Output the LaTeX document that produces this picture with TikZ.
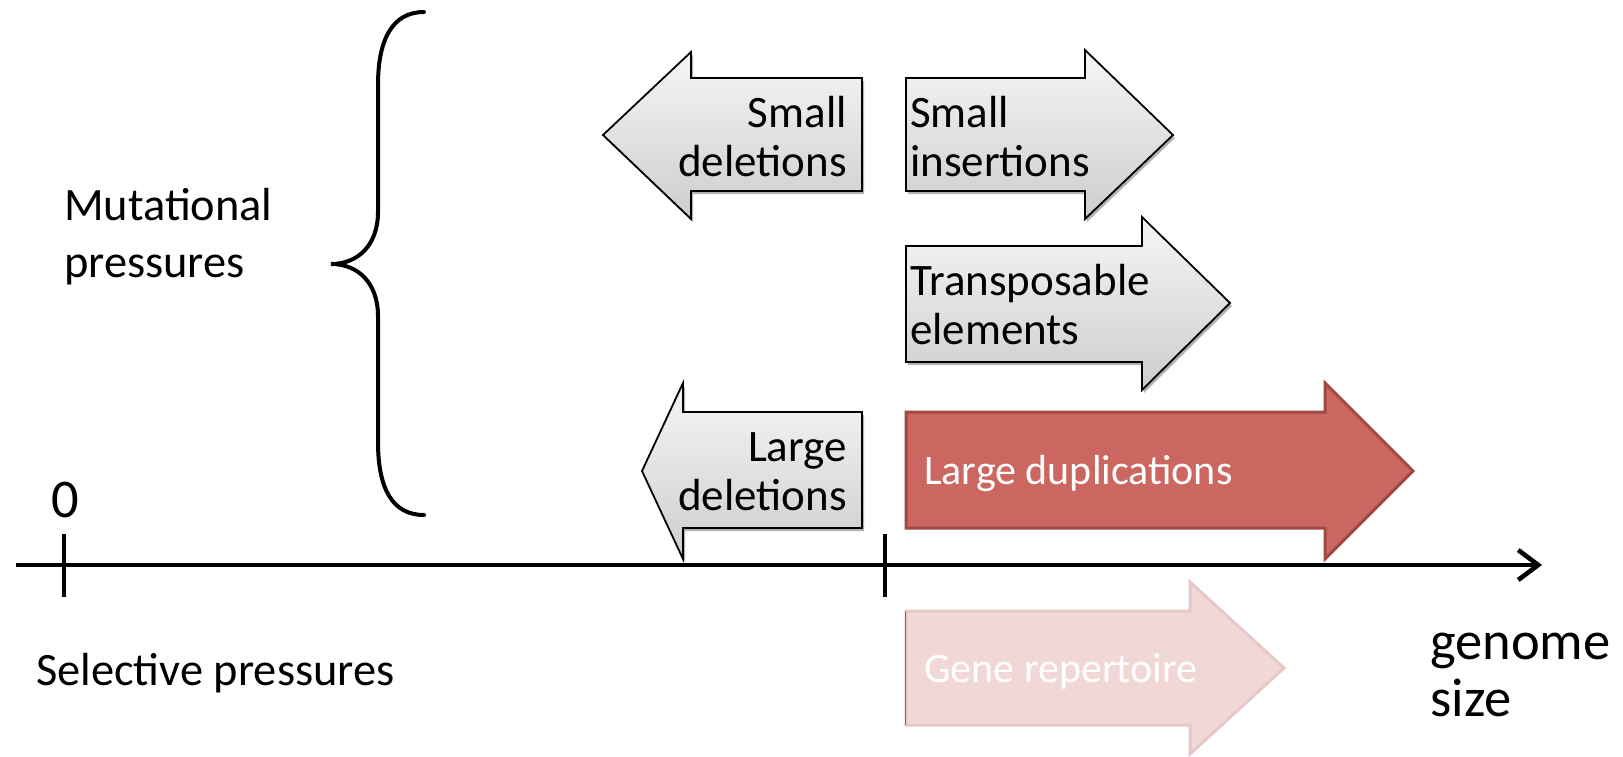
\documentclass[tikz,border=0pt]{standalone}
\usepackage{fontspec}
\setmainfont{Carlito}
\usetikzlibrary{arrows.meta,shadows}

\definecolor{greytop}{HTML}{F6F6F6}
\definecolor{greybot}{HTML}{CDCDCD}
\definecolor{dupfill}{HTML}{CC6661}
\definecolor{dupline}{HTML}{9F4845}
\definecolor{genefill}{HTML}{F2D7D7}
\definecolor{geneline}{HTML}{E7C8C8}
\definecolor{geneedge}{HTML}{B05555}

\tikzset{
  greyarrow/.style={draw=black, line width=1.8pt, line join=miter,
    top color=greytop, bottom color=greybot,
    drop shadow={shadow xshift=2pt, shadow yshift=-3pt, opacity=0.3, fill=black}},
  duparrow/.style={draw=dupline, line width=3pt, line join=miter, fill=dupfill},
  genearrow/.style={draw=geneline, line width=3pt, line join=miter, fill=genefill},
  boxtext/.style={inner sep=0pt, font=\fontsize{45}{49}\selectfont},
  redtext/.style={inner sep=0pt, text=white, font=\fontsize{42}{49}\selectfont},
  plaintext/.style={inner sep=0pt, font=\fontsize{46.4}{57}\selectfont, align=left},
  bigtext/.style={inner sep=0pt, font=\fontsize{54.5}{57}\selectfont, align=left},
  axisline/.style={line width=4.6pt, -{Straight Barb[length=20pt, width=30pt, line width=4.6pt]}},
  tickmark/.style={line width=4.6pt},
  bracestyle/.style={line width=4pt, line cap=round}
}

\begin{document}
\begin{tikzpicture}[x=1pt, y=-1pt]
\useasboundingbox (0,0) rectangle (1623,756);

% --- mutational pressures brace
\draw[bracestyle] (424,12) .. controls (392,12) and (378,40) .. (378,85)
  -- (378,212) .. controls (378,245) and (358,264) .. (331,264)
  .. controls (358,264) and (378,283) .. (378,316)
  -- (378,442) .. controls (378,488) and (392,515) .. (424,515);
\node[plaintext, anchor=west] (mut) at (64,237) {Mutational\\pressures};

% --- small deletions (pointing left)
\draw[greyarrow] (603,135) -- (691,52) -- (691,78) -- (862,78) -- (862,191)
  -- (691,191) -- (691,219) -- cycle;
\node[boxtext, align=right, anchor=east] (sdel) at (847,137) {Small\\deletions};

% --- small insertions
\draw[greyarrow] (906,78) -- (1085,78) -- (1085,50) -- (1173,135) -- (1085,219)
  -- (1085,191) -- (906,191) -- cycle;
\node[boxtext, align=left, anchor=west] (sins) at (910,137) {Small\\insertions};

% --- transposable elements
\draw[greyarrow] (906,246) -- (1142,246) -- (1142,217) -- (1230,303) -- (1142,390)
  -- (1142,362) -- (906,362) -- cycle;
\node[boxtext, align=left, anchor=west] (trans) at (910,305) {Transposable\\elements};

% --- large deletions (pointing left)
\draw[greyarrow] (642,471) -- (683,383) -- (683,412) -- (862,412) -- (862,528)
  -- (683,528) -- (683,559) -- cycle;
\node[boxtext, align=right, anchor=east] (ldel) at (847,472) {Large\\deletions};

% --- large duplications
\draw[duparrow] (906,412) -- (1325,412) -- (1325,383) -- (1413,471) -- (1325,559)
  -- (1325,528) -- (906,528) -- cycle;
\node[redtext, anchor=west] (ldup) at (924,474) {Large duplications};

% --- gene repertoire
\draw[genearrow] (906,611) -- (1190,611) -- (1190,582) -- (1284,668) -- (1190,754)
  -- (1190,725) -- (906,725) -- cycle;
\draw[draw=geneedge, line width=1pt] (905,611) -- (905,725);
\node[redtext, anchor=west] (gene) at (924,671) {Gene repertoire};

% --- genome size axis
\coordinate (axL) at (16,565);
\coordinate (axR) at (1542,565);
\draw[axisline] (axL) -- (axR);
\draw[tickmark] (64,534) -- (64,597);
\draw[tickmark] (885,534) -- (885,597);
\node[bigtext] (zero) at (65,500) {0};
\node[plaintext, anchor=west] (sel) at (36,673) {Selective pressures};
\node[bigtext, anchor=west] (gsize) at (1430,675) {genome\\size};
\end{tikzpicture}
\end{document}
